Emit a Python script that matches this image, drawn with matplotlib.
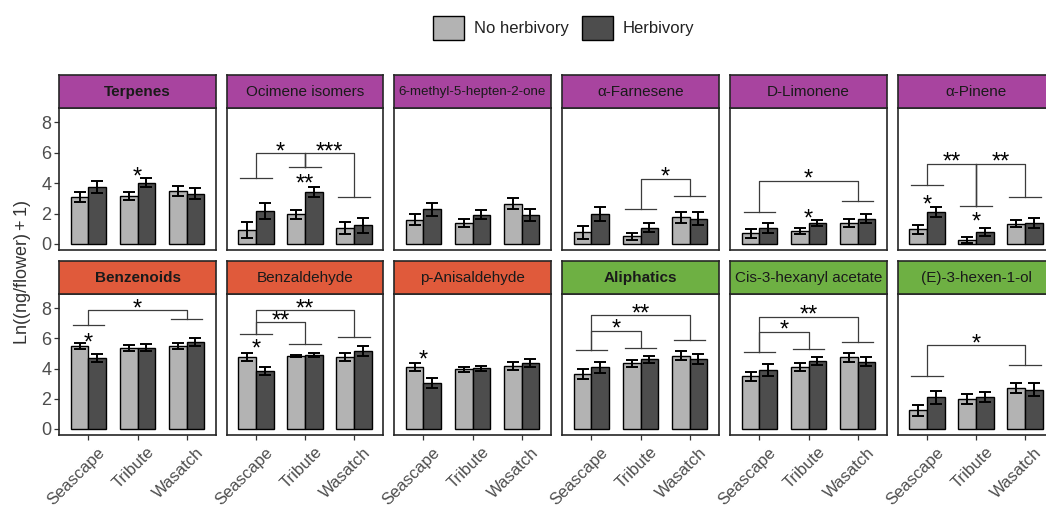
import numpy as np
import matplotlib
matplotlib.use("Agg")
from matplotlib import pyplot as plt
from matplotlib import transforms
from matplotlib.patches import Patch

plt.rcParams['font.family'] = ['Liberation Sans', 'DejaVu Sans']
plt.rcParams['mathtext.fontset'] = 'custom'
plt.rcParams['mathtext.rm'] = 'Liberation Sans'

# ---- data ----
cultivars = ["Seascape", "Tribute", "Wasatch"]
compounds = ["Terpenes", "Ocimene isomers", "6-methyl-5-hepten-2-one", "α-Farnesene",
             "D-Limonene", "α-Pinene",
             "Benzenoids", "Benzaldehyde", "p-Anisaldehyde",
             "Aliphatics", "Cis-3-hexanyl acetate", "(E)-3-hexen-1-ol"]
compound_class = ["terpene"] * 6 + ["benzenoid"] * 3 + ["aliphatic"] * 3
class_totals = ["Terpenes", "Benzenoids", "Aliphatics"]
treatments = ["No herbivory", "Herbivory"]

# mean Ln((ng/flower)+1), rows = compounds, cols = cultivars
no_herb_mean = [
    [3.09, 3.16, 3.49],
    [0.93, 1.94, 1.04],
    [1.59, 1.39, 2.65],
    [0.77, 0.51, 1.77],
    [0.71, 0.88, 1.39],
    [0.95, 0.27, 1.33],
    [5.50, 5.39, 5.50],
    [4.78, 4.83, 4.78],
    [4.13, 3.96, 4.17],
    [3.65, 4.35, 4.85],
    [3.48, 4.13, 4.74],
    [1.24, 1.96, 2.72],
]
herb_mean = [
    [3.76, 4.02, 3.31],
    [2.17, 3.43, 1.22],
    [2.28, 1.92, 1.92],
    [1.94, 1.06, 1.66],
    [1.04, 1.39, 1.66],
    [2.10, 0.77, 1.37],
    [4.72, 5.39, 5.76],
    [3.85, 4.89, 5.17],
    [3.04, 4.02, 4.35],
    [4.09, 4.61, 4.61],
    [3.91, 4.52, 4.46],
    [2.11, 2.11, 2.61],
]
no_herb_se = [
    [0.35, 0.24, 0.33],
    [0.54, 0.28, 0.39],
    [0.35, 0.28, 0.37],
    [0.44, 0.22, 0.36],
    [0.30, 0.20, 0.28],
    [0.28, 0.20, 0.23],
    [0.21, 0.20, 0.18],
    [0.26, 0.07, 0.24],
    [0.26, 0.15, 0.25],
    [0.33, 0.24, 0.30],
    [0.33, 0.26, 0.29],
    [0.38, 0.33, 0.35],
]
herb_se = [
    [0.38, 0.30, 0.36],
    [0.52, 0.31, 0.48],
    [0.42, 0.30, 0.40],
    [0.46, 0.29, 0.42],
    [0.31, 0.21, 0.31],
    [0.35, 0.28, 0.31],
    [0.25, 0.24, 0.24],
    [0.25, 0.15, 0.30],
    [0.33, 0.17, 0.26],
    [0.35, 0.26, 0.33],
    [0.37, 0.27, 0.30],
    [0.43, 0.35, 0.41],
]

# herbivory effect within a cultivar: (compound, cultivar, label, height)
herb_sig = [
    (0, 1, "*", 4.75),
    (1, 1, "**", 4.30),
    (4, 1, "*", 2.00),
    (5, 0, "*", 2.90),
    (5, 1, "*", 1.77),
    (6, 0, "*", 6.04),
    (7, 0, "*", 5.65),
    (8, 0, "*", 4.89),
]

# cultivar comparisons: level of the bar over each cultivar (None = no bar)
cultivar_bar = {
    1: [4.31, 5.04, 3.09],
    3: [None, 2.30, 3.16],
    4: [2.10, None, 2.81],
    5: [3.91, 2.50, 3.09],
    6: [6.89, None, 7.26],
    7: [6.30, 5.65, 6.09],
    9: [5.26, 5.39, 5.87],
    10: [5.11, 5.33, 5.78],
    11: [3.52, None, 4.24],
}
# (compound, cultivar a, cultivar b, bracket height, label)
cultivar_sig = [
    (1, 0, 1, 5.97, "*"),
    (1, 1, 2, 5.97, "***"),
    (3, 1, 2, 4.29, "*"),
    (4, 0, 2, 4.15, "*"),
    (5, 0, 1, 5.26, "**"),
    (5, 1, 2, 5.26, "**"),
    (6, 0, 2, 7.87, "*"),
    (7, 0, 1, 7.07, "**"),
    (7, 0, 2, 7.87, "**"),
    (9, 0, 1, 6.52, "*"),
    (9, 0, 2, 7.54, "**"),
    (10, 0, 1, 6.46, "*"),
    (10, 0, 2, 7.43, "**"),
    (11, 0, 2, 5.54, "*"),
]

# ---- style ----
strip_colors = {"terpene": "#A8449F", "benzenoid": "#E05A3B", "aliphatic": "#6EB043"}
bar_colors = ["#B3B3B3", "#4D4D4D"]
line_col = "#3C3C3C"
text_col = "#4D4D4D"
star_size = 17

W, H = 1046, 507
lefts = [59, 226.5, 394, 562, 730, 897.5]
panel_w = 157
rows = [dict(strip_top=75, top=108, h=142), dict(strip_top=261, top=294, h=141)]


def px_axes(fig, left, top, width, height):
    return fig.add_axes([left / W, 1 - (top + height) / H, width / W, height / H])


def star(ax, x, y, s):
    # shift down so the asterisk ink sits on y rather than the baseline
    tr = transforms.offset_copy(ax.transData, fig=ax.figure, x=0, y=-0.5 * star_size, units='points')
    ax.text(x, y, s, transform=tr, ha='center', va='baseline', fontsize=star_size, color='black')


fig = plt.figure(figsize=(W / 100, H / 100), dpi=100)
x = np.arange(1, 4)
bw = 0.36
label_shift = transforms.ScaledTranslation(9 / 100, -2 / 100, fig.dpi_scale_trans)

for i, name in enumerate(compounds):
    r, c = divmod(i, 6)
    row = rows[r]
    ax = px_axes(fig, lefts[c], row['top'], panel_w, row['h'])

    for k, (means, ses) in enumerate([(no_herb_mean[i], no_herb_se[i]), (herb_mean[i], herb_se[i])]):
        xs = x + (k - 0.5) * bw
        ax.bar(xs, means, width=bw, color=bar_colors[k], edgecolor='black', linewidth=1.0, zorder=2)
        ax.errorbar(xs, means, yerr=ses, fmt='none', ecolor='black', elinewidth=1.4,
                    capsize=4.3, capthick=1.4, zorder=3)

    # cultivar comparison brackets
    if i in cultivar_bar:
        for j, lev in enumerate(cultivar_bar[i]):
            if lev is not None:
                ax.plot([x[j] - 0.32, x[j] + 0.32], [lev, lev], color=line_col, lw=0.9, zorder=4)
    for (ci, a, b, top, lab) in cultivar_sig:
        if ci != i:
            continue
        levs = cultivar_bar[i]
        ax.plot([x[a], x[a], x[b], x[b]], [levs[a], top, top, levs[b]], color=line_col, lw=0.9, zorder=4)
        star(ax, (x[a] + x[b]) / 2, top + 0.45, lab)
    # middle drop where two brackets share a cultivar at the same height
    for (ci, a, b, top, lab) in cultivar_sig:
        if ci == i and b == 1 and any(s[0] == i and s[1] == 1 and s[3] == top for s in cultivar_sig):
            ax.plot([x[1], x[1]], [cultivar_bar[i][1], top], color=line_col, lw=0.9, zorder=4)

    for (ci, j, lab, y) in herb_sig:
        if ci == i:
            star(ax, x[j], y, lab)

    ax.set_xlim(0.4, 3.6)
    ax.set_ylim(-0.4, 8.95)
    ax.set_xticks(x)
    ax.set_yticks([0, 2, 4, 6, 8])
    for sp in ax.spines.values():
        sp.set_color('#262626')
        sp.set_linewidth(1.2)
    ax.tick_params(axis='both', length=3.5, width=0.9, color='#333333', labelcolor=text_col,
                   labelsize=13, pad=2)
    if c == 0:
        ax.set_yticklabels([str(v) for v in [0, 2, 4, 6, 8]])
    else:
        ax.tick_params(axis='y', left=False, labelleft=False)
    if r == 1:
        ax.set_xticklabels(cultivars, rotation=45, ha='right', rotation_mode='anchor', fontsize=12)
        for lab in ax.get_xticklabels():
            lab.set_transform(lab.get_transform() + label_shift)
    else:
        ax.tick_params(axis='x', bottom=False, labelbottom=False)

    # facet strip
    sax = px_axes(fig, lefts[c], row['strip_top'], panel_w, row['top'] - row['strip_top'])
    sax.set_facecolor(strip_colors[compound_class[i]])
    sax.set_xticks([])
    sax.set_yticks([])
    for sp in sax.spines.values():
        sp.set_color('#262626')
        sp.set_linewidth(1.2)
    weight = 'bold' if name in class_totals else 'normal'
    fs = 9.6 if len(name) > 21 else 11
    sax.text(0.5, 0.48, name, ha='center', va='center', fontsize=fs, fontweight=weight,
             color='#1A1A1A', transform=sax.transAxes)

fig.text(23 / W, 1 - 272 / H, r'Ln$\left(\left(\mathregular{ng/flower}\right)+1\right)$',
         rotation=90, ha='center', va='center', fontsize=13, color='#333333')

handles = [Patch(facecolor=bar_colors[k], edgecolor='black', linewidth=1.0) for k in range(2)]
fig.legend(handles, treatments, loc='center', bbox_to_anchor=(564 / W, 1 - 28 / H), ncol=2,
           frameon=False, fontsize=12, handlelength=1.85, handleheight=1.85,
           handletextpad=0.6, columnspacing=0.8, labelcolor='#222222')

fig.savefig('out.png', dpi=100)
